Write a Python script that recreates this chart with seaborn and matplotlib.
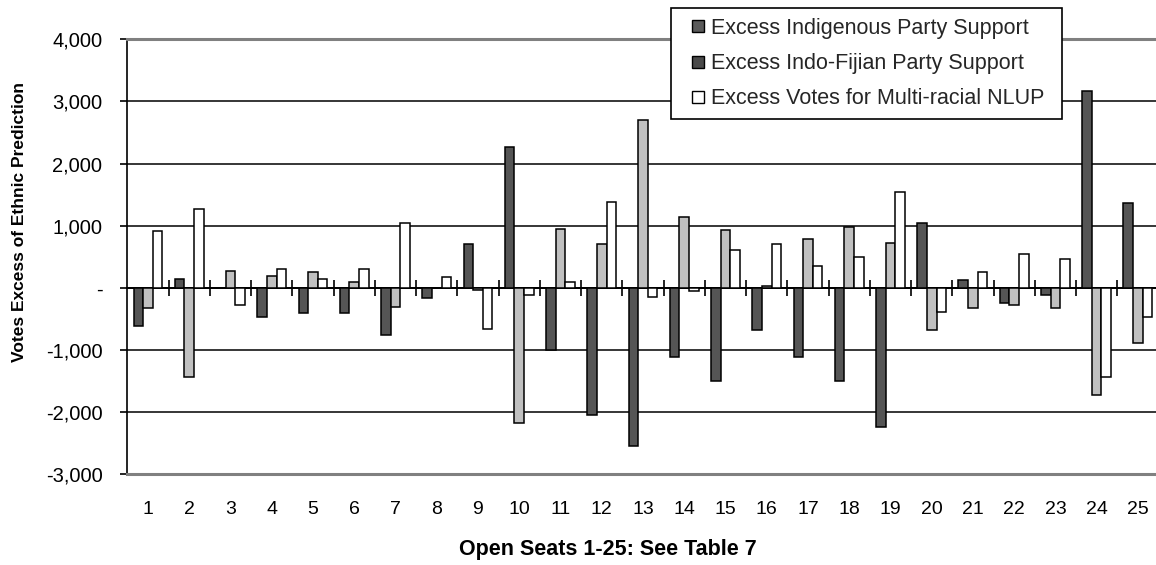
import numpy as np
import pandas as pd
import matplotlib
matplotlib.use("Agg")
import matplotlib.pyplot as plt
from matplotlib.lines import Line2D
from matplotlib.ticker import FuncFormatter, MultipleLocator
import seaborn as sns

# Open seats 1-25
seats = [str(i) for i in range(1, 26)]

series_names = [
    "Excess Indigenous Party Support",
    "Excess Indo-Fijian Party Support",
    "Excess Votes for Multi-racial NLUP",
]

indigenous = [-620, 150, 0, -460, -400, -400, -750, -170, 700, 2270,
              -1000, -2040, -2550, -1110, -1500, -680, -1110, -1500, -2240, 1050,
              120, -240, -110, 3170, 1370]
indo_fijian = [-330, -1430, 280, 190, 250, 90, -300, 0, -40, -2170,
               950, 700, 2700, 1140, 930, 30, 790, 980, 730, -670,
               -330, -280, -330, -1720, -880]
nlup = [920, 1270, -270, 310, 150, 310, 1050, 180, -660, -110,
        90, 1380, -150, -50, 610, 700, 350, 500, 1540, -380,
        250, 540, 470, -1430, -460]

bar_colors = ["#555555", "#c0c0c0", "#ffffff"]
legend_colors = ["#5a5a5a", "#4a4a4a", "#ffffff"]

df = pd.DataFrame({
    "seat": seats * 3,
    "series": np.repeat(series_names, len(seats)),
    "votes": indigenous + indo_fijian + nlup,
})

sns.set_theme(style="white")
plt.rcParams["font.family"] = ["Liberation Sans", "DejaVu Sans"]

fig = plt.figure(figsize=(11.56, 5.65), dpi=100)
ax = fig.add_axes([0.1102, 0.1604, 0.892, 0.770])

sns.barplot(data=df, x="seat", y="votes", hue="series", order=seats,
            hue_order=series_names, palette=bar_colors, width=0.7,
            edgecolor="black", linewidth=1.1, errorbar=None, legend=False, ax=ax)

ax.set_xlim(-0.5, len(seats) - 0.5)
ax.set_ylim(-3000, 4000)
ax.yaxis.set_major_locator(MultipleLocator(1000))
ax.yaxis.set_major_formatter(FuncFormatter(lambda v, _: "-" if v == 0 else f"{v:,.0f}"))

ax.set_axisbelow(True)
ax.yaxis.grid(True, color="black", linewidth=1.1)
ax.xaxis.grid(False)

for side in ["top", "bottom"]:
    ax.spines[side].set_color("#808080")
    ax.spines[side].set_linewidth(2.2)
ax.spines["right"].set_visible(False)
ax.spines["left"].set_color("black")
ax.spines["left"].set_linewidth(1.2)

ax.tick_params(axis="y", left=True, direction="out", length=5, width=1.2,
               color="black", pad=13, labelsize=14.5, labelcolor="black")
ax.tick_params(axis="x", bottom=False, length=0, pad=19, labelsize=14,
               labelcolor="black")

# zero line with category separator ticks
zero_frac = (0 - ax.get_ylim()[0]) / (ax.get_ylim()[1] - ax.get_ylim()[0])
sec = ax.secondary_xaxis(zero_frac)
sec.set_xticks(np.arange(0.5, len(seats) - 1, 1.0))
sec.set_xticklabels([])
sec.tick_params(axis="x", direction="inout", length=12, width=1.2, color="black")
for sp in sec.spines.values():
    sp.set_color("black")
    sp.set_linewidth(1.4)

ax.set_xlabel("Open Seats 1-25: See Table 7", fontsize=15.5, fontweight="bold",
              color="black")
ax.xaxis.set_label_coords(0.466, -0.148)
ax.set_ylabel("Votes Excess of Ethnic Prediction", fontsize=12.5,
              fontweight="bold", color="black")
ax.yaxis.set_label_coords(-0.0975, 0.58)

handles = [Line2D([], [], linestyle="none", marker="s", markersize=8.8,
                  markerfacecolor=c, markeredgecolor="black", markeredgewidth=1.0)
           for c in legend_colors]
leg = fig.legend(handles, series_names, loc="upper left",
                 bbox_to_anchor=(0.5804, 0.90, 0.3382, 0.0858), mode="expand",
                 fontsize=15.5, frameon=True, fancybox=False, framealpha=1,
                 edgecolor="black", borderpad=0.45, labelspacing=0.66,
                 handlelength=1.6, handleheight=0.6, handletextpad=-0.17,
                 borderaxespad=0)
leg.get_frame().set_linewidth(1.2)

fig.savefig("out.png", dpi=100, facecolor="white")
